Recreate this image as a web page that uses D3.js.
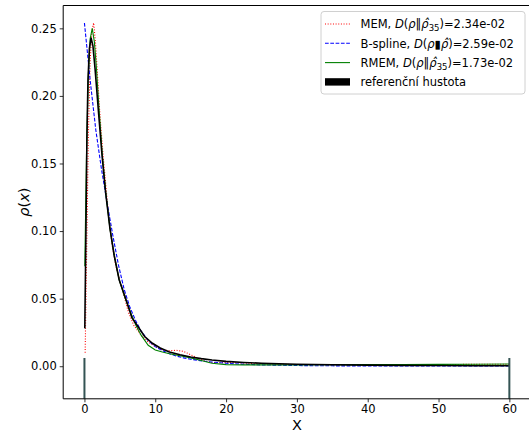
<!DOCTYPE html>
<html><head><meta charset="utf-8">
<script src="https://cdn.jsdelivr.net/npm/d3@7"></script>
<style>
body{margin:0;background:#fff;}
svg{display:block;font-family:"DejaVu Sans",sans-serif;}
</style></head>
<body><svg id="c" width="529" height="434"></svg>
<script>
// ---- data ----
const refX = [0.05,0.2,0.35,0.5,0.7,0.93,1.2,1.5,2.0,2.5,3.0,3.6,4.2,4.9,5.7,6.7,7.6,8.5,9.6,10.7,12,13.5,15,16.5,18,20,22.5,25,30,35,40,45,50,55,60];
const refY = [0.028,0.095,0.17,0.212,0.235,0.243,0.237,0.220,0.187,0.155,0.128,0.102,0.082,0.064,0.052,0.036,0.029,0.022,0.017,0.0135,0.0105,0.0085,0.0068,0.0056,0.0046,0.0036,0.0028,0.0022,0.0015,0.0011,0.0008,0.0006,0.0005,0.0004,0.0003];
const memX = [0.1,0.3,0.55,0.8,1.05,1.3,1.55,1.85,2.2,2.6,3.0,3.4,3.9,4.4,5.0,5.6,6.2,7.0,8.0,9.0,10,11,12,13,14,15,16,17,18,19,20,22,25,30,35,40,45,50,55,60];
const memY = [0.010,0.08,0.17,0.225,0.248,0.254,0.240,0.215,0.185,0.158,0.135,0.112,0.090,0.075,0.063,0.052,0.040,0.030,0.023,0.018,0.0145,0.012,0.0115,0.0118,0.011,0.0085,0.006,0.0038,0.0028,0.0026,0.0028,0.0025,0.0018,0.0012,0.001,0.0012,0.0013,0.0012,0.0014,0.0015];
const bsX = [0,0.8,1.6,2.4,3.2,4.0,4.8,5.6,6.4,7.2,8.0,9,10,11,12,13,14,15,16,17,18,20,22,25,30,35,40,45,50,55,60];
const bsY = [0.254,0.212,0.175,0.146,0.121,0.097,0.075,0.057,0.044,0.034,0.026,0.019,0.0145,0.0115,0.0093,0.0075,0.0062,0.0052,0.0044,0.0037,0.0031,0.0022,0.0016,0.001,0.0005,0.0003,0.0002,0.0002,0.0002,0.0002,0.0002];
const rmX = [0.05,0.3,0.55,0.8,1.1,1.4,1.7,2.0,2.5,3.0,3.6,4.2,4.9,5.7,6.5,7.3,8.0,9.0,10,11,12,13.5,15,16.5,18,20,22.5,25,30,35,40,45,50,55,60];
const rmY = [0.074,0.16,0.215,0.242,0.250,0.240,0.220,0.195,0.158,0.129,0.102,0.082,0.064,0.051,0.040,0.030,0.023,0.0155,0.012,0.0105,0.0092,0.0078,0.0062,0.0042,0.0022,0.0012,0.0010,0.0010,0.0010,0.0011,0.0012,0.0013,0.0014,0.0015,0.0016];
const edgeX = [0, 60];
const edgeTop = 0.006;
const xTicks = [0,10,20,30,40,50,60];
const yTicks = [0,0.05,0.10,0.15,0.20,0.25];

// ---- layout ----
const svg = d3.select("#c");
const L = 63.2, R = 530.6, T = 5.5, B = 398.8;
const x = d3.scaleLinear().domain([-3, 63]).range([L, R]);
const y = d3.scaleLinear().domain([-0.0241, 0.2669]).range([B, T]);

svg.append("defs").append("clipPath").attr("id","clip")
  .append("rect").attr("x",L).attr("y",T).attr("width",R-L).attr("height",B-T);

const g = svg.append("g").attr("clip-path","url(#clip)");
const line = d3.line().x(d=>x(d[0])).y(d=>y(d[1]));
const zip = (a,b)=>a.map((v,i)=>[v,b[i]]);

g.append("path").datum(zip(memX,memY)).attr("d",line)
  .attr("fill","none").attr("stroke","#ff0000").attr("stroke-width",1.1).attr("stroke-dasharray","1,1.65");
g.append("path").datum(zip(bsX,bsY)).attr("d",line)
  .attr("fill","none").attr("stroke","#0000ff").attr("stroke-width",1.1).attr("stroke-dasharray","3.7,1.6");
g.append("path").datum(zip(rmX,rmY)).attr("d",line)
  .attr("fill","none").attr("stroke","#008000").attr("stroke-width",1.1);
g.append("path").datum(zip(refX,refY)).attr("d",line)
  .attr("fill","none").attr("stroke","#000").attr("stroke-width",1.6);
g.selectAll(".edge").data(edgeX).enter().append("line")
  .attr("x1",d=>x(d)).attr("x2",d=>x(d)).attr("y1",y(edgeTop)).attr("y2",B+5)
  .attr("stroke","#345454").attr("stroke-width",2);

// axes
const xAxis = svg.append("g").attr("transform",`translate(0,${B})`)
  .call(d3.axisBottom(x).tickValues(xTicks).tickSize(3.5).tickPadding(3).tickFormat(d3.format("d")));
const yAxis = svg.append("g").attr("transform",`translate(${L},0)`)
  .call(d3.axisLeft(y).tickValues(yTicks).tickSize(3.5).tickPadding(3).tickFormat(d3.format(".2f")));
[xAxis,yAxis].forEach(a=>{
  a.select(".domain").remove();
  a.selectAll("text").attr("font-size","11.5px").attr("fill","#000").attr("font-family","DejaVu Sans");
  a.selectAll("line").attr("stroke","#000").attr("stroke-width",0.8);
});
// spines
svg.append("line").attr("x1",L).attr("x2",R).attr("y1",B).attr("y2",B).attr("stroke","#000").attr("stroke-width",1);
svg.append("line").attr("x1",L).attr("x2",L).attr("y1",T).attr("y2",B).attr("stroke","#000").attr("stroke-width",1);
svg.append("line").attr("x1",L).attr("x2",R).attr("y1",T).attr("y2",T).attr("stroke","#000").attr("stroke-width",1);

// axis labels
svg.append("text").attr("x",(L+R)/2).attr("y",430).attr("text-anchor","middle")
  .attr("font-size","14.5px").text("X");
const yl = svg.append("text").attr("transform",`translate(29,${(T+B)/2}) rotate(-90)`)
  .attr("text-anchor","middle").attr("font-size","14.5px");
yl.append("tspan").attr("font-style","italic").text("ρ");
yl.append("tspan").text("(");
yl.append("tspan").attr("font-style","italic").text("x");
yl.append("tspan").text(")");

// legend
const lg = svg.append("g");
lg.append("rect").attr("x",321).attr("y",11.5).attr("width",204).attr("height",82.5).attr("rx",3)
  .attr("fill","#fff").attr("fill-opacity",0.8).attr("stroke","#d0d0d0").attr("stroke-width",1);
const rows = [
  {type:"line", color:"#ff0000", dash:"1,1.65", name:"MEM", sep:"‖", sub:"35", val:"2.34e-02"},
  {type:"line", color:"#0000ff", dash:"3.7,1.6", name:"B-spline", sep:"▮", sub:"", val:"2.59e-02"},
  {type:"line", color:"#008000", dash:null, name:"RMEM", sep:"‖", sub:"35", val:"1.73e-02"},
  {type:"patch", color:"#000", name:"referenční hustota"}
];
rows.forEach((r,i)=>{
  const cy = 24 + i*19.3;
  if(r.type==="line"){
    const l = lg.append("line").attr("x1",325).attr("x2",350).attr("y1",cy).attr("y2",cy)
      .attr("stroke",r.color).attr("stroke-width",1.1);
    if(r.dash) l.attr("stroke-dasharray",r.dash);
  } else {
    lg.append("rect").attr("x",325).attr("y",cy-3.7).attr("width",25).attr("height",7.4).attr("fill",r.color);
  }
  const t = lg.append("text").attr("x",360.5).attr("y",cy+4.2).attr("font-size","11.5px");
  if(r.type==="patch"){ t.text(r.name); return; }
  t.append("tspan").text(r.name+", ");
  t.append("tspan").attr("font-style","italic").text("D");
  t.append("tspan").text("(");
  t.append("tspan").attr("font-style","italic").text("ρ");
  t.append("tspan").text(r.sep);
  t.append("tspan").attr("font-style","italic").text("ρ̂");
  if(r.sub){
    t.append("tspan").attr("font-size","8.5px").attr("dy",3).text(r.sub);
    t.append("tspan").attr("dy",-3).text(")="+r.val);
  } else {
    t.append("tspan").text(")="+r.val);
  }
});
</script>
</body></html>
